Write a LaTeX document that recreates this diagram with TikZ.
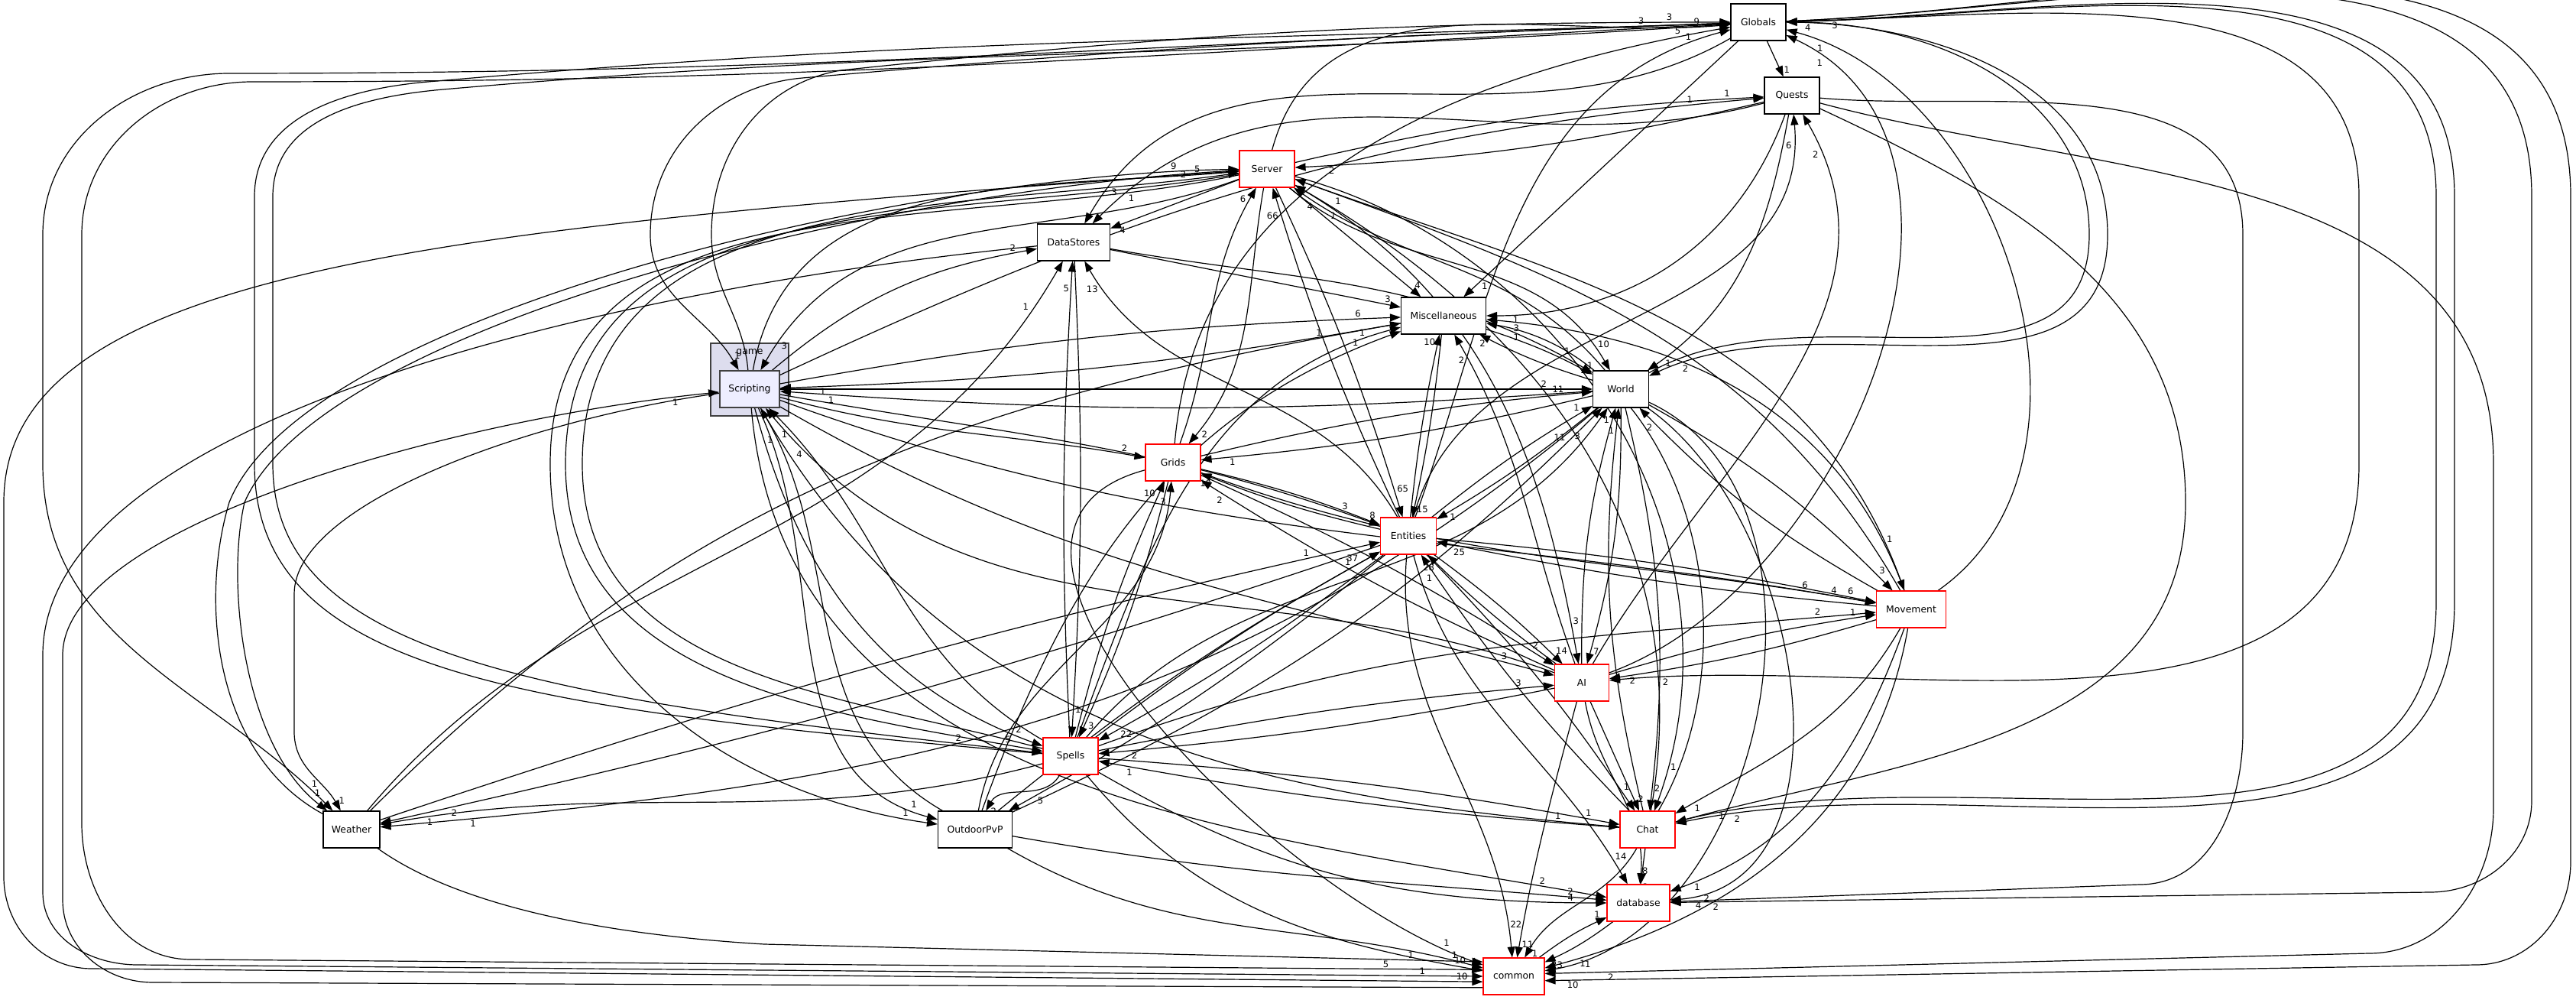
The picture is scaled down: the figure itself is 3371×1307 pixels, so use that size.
\documentclass[tikz,border=0pt]{standalone}
\usepackage{fontspec}
\setmainfont{DejaVu Sans}
\usetikzlibrary{arrows.meta,positioning,backgrounds}
\definecolor{clusterfill}{HTML}{DDDDEE}
\definecolor{scriptfill}{HTML}{EEEEFF}
\definecolor{darkline}{HTML}{404040}
\tikzset{
    %Define standard arrow tip
    >={Triangle[length=3.5pt,width=2.5pt]},
    %Define style for boxes
    dirbox/.style={
           rectangle,
           draw=black, line width=.28pt,
           minimum height=12pt,
           inner sep=0pt,
           font=\fontsize{3.1}{3.5}\selectfont,
           text centered,
           fill=white},
    redbox/.style={dirbox, draw=red},
    curbox/.style={dirbox, draw=darkline, line width=.45pt, fill=scriptfill},
    % Define arrow style
    dep/.style={
           ->,
           line width=.3pt},
    num/.style={pos=.94, auto, inner sep=.4pt,
           font=\fontsize{2.9}{3}\selectfont}
}

\begin{document}
\begin{tikzpicture}[x=.25pt,y=.25pt,line width=.3pt]
\useasboundingbox (0,0) rectangle (3371,1307);
\node[font=\fontsize{3.1}{3.5}\selectfont] (game) at (981,846) {game};

\node[dirbox, minimum width=18pt] (G) at (2301,1278) {Globals};
\node[dirbox, minimum width=18pt] (Q) at (2345,1182) {Quests};
\node[redbox, minimum width=18pt] (Sv) at (1658,1086) {Server};
\node[dirbox, minimum width=23.75pt] (DS) at (1405,990) {DataStores};
\node[dirbox, minimum width=27.75pt] (Mi) at (1889,894) {Miscellaneous};
\node[curbox, minimum width=19.5pt] (Sc) at (981,798) {Scripting};
\node[dirbox, minimum width=18.25pt] (Wo) at (2121,798) {World};
\node[redbox, minimum width=18pt] (Gr) at (1535,702) {Grids};
\node[redbox, minimum width=18.25pt] (En) at (1843,606) {Entities};
\node[redbox, minimum width=22.75pt] (Mv) at (2501,510) {Movement};
\node[redbox, minimum width=17.75pt] (AI) at (2070,414) {AI};
\node[redbox, minimum width=18pt] (Sp) at (1401,318) {Spells};
\node[dirbox, minimum width=18.5pt] (We) at (460,222) {Weather};
\node[dirbox, minimum width=24.25pt] (Op) at (1276,222) {OutdoorPvP};
\node[redbox, minimum width=18pt] (Ch) at (2156,222) {Chat};
\node[redbox, minimum width=20.5pt] (db) at (2144,126) {database};
\node[redbox, minimum width=20pt] (co) at (1981,30) {common};

\begin{scope}[on background layer]
\draw[-,fill=clusterfill,draw=darkline,line width=.38pt] (930,763) rectangle (1032,858);

% long loops on the left
\draw[dep] (G) to[out=182,in=0] (300,1211) to[out=180,in=90] (56,1000) -- (56,700) to[out=270,in=135] node[num]{1} (We);
\draw[dep] (G) to[out=183,in=0] (330,1200) to[out=180,in=90] (107,1000) -- (107,230) to[out=270,in=180] (250,52) -- node[num,pos=.925]{5} (co.168);
\draw[dep] (Sp) .. controls (700,380) and (333,420) .. (333,700) -- (333,1050) to[out=90,in=185] (560,1200) to[out=5,in=182] node[num]{3} (G);
\draw[dep] (G) to[out=184,in=5] (580,1190) to[out=185,in=90] (357,1050) -- (357,700) .. controls (357,450) and (700,395) .. node[num]{2} (Sp);
\draw[dep] (Sc) to[out=95,in=270] (931,1000) to[out=90,in=190] (1100,1215) to[out=6,in=180] node[num]{3} (G);
\draw[dep] (G) to[out=182,in=5] (1050,1205) to[out=185,in=90] (851,1000) to[out=270,in=120] node[num]{1} (Sc);
\draw[dep] (Sv) .. controls (600,1010) and (5,960) .. (5,650) -- (5,160) to[out=270,in=180] (120,40) -- node[num,pos=.985]{10} (co.190);
\draw[dep] (DS) .. controls (800,930) and (56,760) .. (56,450) -- (56,140) to[out=270,in=180] (180,45) -- node[num,pos=.955]{1} (co.180);
\draw[dep] (co.200) -- (200,22) to[out=180,in=270] (82,130) -- (82,450) .. controls (82,620) and (600,760) .. node[num,swap]{1} (Sc);
\draw[dep] (We) .. controls (280,320) and (261,520) .. (300,650) .. controls (400,900) and (1200,1080) .. node[num]{9} (Sv);
\draw[dep] (Sv) .. controls (1150,1060) and (420,880) .. (320,650) .. controls (295,540) and (320,330) .. node[num]{1} (We);
\draw[dep] (Sc) .. controls (700,760) and (385,650) .. (385,530) -- (385,350) to[out=270,in=120] node[num]{1} (We);
\draw[dep] (Sv) to[out=190,in=90] (740,700) to[out=270,in=170] node[num]{5} (Sp);
\draw[dep] (Sp) to[out=165,in=270] (762,700) to[out=90,in=188] node[num]{2} (Sv);
\draw[dep] (Sv) to[out=192,in=90] (720,700) to[out=270,in=172] node[num]{1} (Op);
\draw[dep] (We) .. controls (560,150) and (700,90) .. (1000,72) -- node[num,pos=.9]{1} (co.155);

% long loops on the right
\draw[dep] (Wo) to[out=30,in=270] (2734,1000) to[out=90,in=0] node[num]{4} (G);
\draw[dep] (G) to[out=0,in=90] (2758,1000) to[out=270,in=25] node[num]{2} (Wo);
\draw[dep] (G) to[out=1,in=90] (3087,1050) -- (3087,700) to[out=270,in=5] node[num]{2} (AI);
\draw[dep] (Ch) to[out=15,in=270] (3188,520) -- (3188,1050) to[out=90,in=1] node[num]{3} (G);
\draw[dep] (G) to[out=1,in=90] (3212,1050) -- (3212,520) to[out=270,in=12] node[num]{2} (Ch);
\draw[dep] (G) to[out=2,in=90] (3313,1050) -- (3313,260) to[out=270,in=0] (3180,140) -- node[num]{2} (db);
\draw[dep] (G) to[out=2,in=90] (3364,1050) -- (3364,180) to[out=270,in=0] (3240,45) -- node[num,pos=.97]{10} (co.-8);
\draw[dep] (Q) to[out=-5,in=90] (2935,1000) -- (2935,350) to[out=270,in=0] (2800,150) -- node[num]{4} (db);
\draw[dep] (Q) to[out=-15,in=90] (3263,700) -- (3263,250) to[out=270,in=0] (3100,60) -- node[num,pos=.92]{2} (co.5);
\draw[dep] (Q) to[out=-25,in=90] (2860,650) to[out=270,in=15] node[num]{1} (Ch);

\path[dep]
    (Sv) edge[out=75,in=185] node[num]{9} (G)
    (Gr) edge[out=85,in=190] node[num]{5} (G)
    (En) edge[out=70,in=195] node[num]{1} (G)
    (Mv) edge[out=35,in=-15] node[num]{1} (G)
    (AI) edge[out=20,in=-25] node[num]{1} (G)
    (G) edge node[num]{1} (Q)
    (G) edge node[num]{1} (Mi)
    (G) edge[out=210,in=60] node[num]{3} (DS)
    (Q) edge[bend left=5] node[num]{2} (Sv)
    (Sv) edge[bend left=5] node[num]{1} (Q)
    (Q) edge[out=195,in=45] node[num]{1} (DS)
    (Q) edge[out=-100,in=35] node[num]{1} (Wo)
    (Q) edge[out=-110,in=0] node[num]{1} (Mi)
    (En) edge[out=75,in=-85] node[num]{6} (Q)
    (AI) edge[out=60,in=-60] node[num]{2} (Q)
    (Sc) edge[out=25,in=185] node[num]{1} (Q);

\path[dep]
    (Sv) edge node[num]{4} (DS)
    (Sv) edge node[num]{4} (Mi)
    (Sv) edge[out=-40,in=120] node[num]{10} (Wo)
    (Sv) edge[bend left=4] node[num]{65} (En)
    (En) edge[bend left=4] node[num]{66} (Sv)
    (Sv) edge[out=-20,in=110] node[num]{1} (Mv)
    (Sv) edge[out=-30,in=100] node[num]{3} (AI)
    (Sv) edge[out=-15,in=70] node[num]{1} (Ch)
    (Sv) edge[out=200,in=60] node[num]{3} (Sc)
    (Sc) edge[out=80,in=185] node[num]{5} (Sv)
    (Gr) edge[out=70,in=240] node[num]{6} (Sv)
    (Sv) edge[out=-100,in=50] node[num]{2} (Gr)
    (Wo) edge[out=130,in=-35] node[num]{4} (Sv)
    (Mv) edge[out=120,in=-20] node[num]{1} (Sv)
    (Ch) edge[out=80,in=-30] node[num]{1} (Sv);

\path[dep]
    (DS) edge node[num]{3} (Mi)
    (DS) edge[out=-10,in=150] node[num]{1} (Wo)
    (Sc) edge[out=40,in=190] node[num]{2} (DS)
    (We) edge[out=50,in=240] node[num]{1} (DS)
    (Sp) edge[bend left=3] node[num]{5} (DS)
    (DS) edge[bend left=3] node[num]{1} (Sp)
    (En) edge[out=120,in=-60] node[num]{13} (DS)
    (Sc) edge[bend left=4] node[num]{6} (Mi)
    (Mi) edge[bend left=4] node[num]{1} (Sc)
    (Sp) edge[out=70,in=195] node[num]{1} (Mi)
    (Op) edge[out=70,in=200] node[num]{1} (Mi)
    (We) edge[out=45,in=190] node[num]{1} (Mi)
    (Mi) edge[bend left=5] node[num]{1} (Wo)
    (Wo) edge[bend left=5] node[num]{2} (Mi)
    (Mv) edge[out=110,in=-5] node[num]{3} (Mi)
    (Ch) edge[out=60,in=-10] node[num]{1} (Mi)
    (AI) edge[out=110,in=-60] node[num]{2} (Mi)
    (En) edge[bend left=3] node[num]{10} (Mi)
    (Mi) edge[bend left=3] node[num]{15} (En);

\path[dep]
    (Sc) edge node[num]{2} (Wo)
    (Wo) edge[bend left=4] node[num]{1} (Sc)
    (Sc) edge[out=-15,in=170] node[num]{2} (Gr)
    (Sc) edge[out=-10,in=160] node[num]{3} (En)
    (Sc) edge[out=-75,in=160] node[num]{2} (Sp)
    (Sp) edge[out=150,in=-45] node[num]{1} (Sc)
    (Op) edge[out=150,in=-60] node[num]{1} (Sc)
    (Sc) edge[out=-65,in=165] node[num]{1} (Op)
    (AI) edge[out=160,in=-50] node[num]{4} (Sc)
    (Sc) edge[out=-30,in=165] node[num]{3} (AI)
    (Sc) edge[out=-20,in=170] node[num]{6} (Mv)
    (Sc) edge[out=-60,in=175] node[num]{1} (Ch)
    (Sc) edge[out=-85,in=170] node[num]{2} (db);

\path[dep]
    (Gr) edge[bend left=4] node[num]{11} (Wo)
    (Wo) edge[bend left=4] node[num]{1} (Gr)
    (En) edge[bend left=4] node[num]{1} (Wo)
    (Wo) edge[bend left=4] node[num]{1} (En)
    (Sp) edge[out=50,in=235] node[num]{3} (Wo)
    (AI) edge[bend left=8] node[num]{1} (Wo)
    (Wo) edge[bend left=8] node[num]{7} (AI)
    (Ch) edge[bend left=10] node[num]{1} (Wo)
    (Wo) edge[bend left=10] node[num]{2} (Ch)
    (Mv) edge[bend left=8] node[num]{2} (Wo)
    (Wo) edge[bend left=8] node[num]{3} (Mv)
    (Op) edge[out=25,in=225] node[num]{11} (Wo)
    (Wo) edge[out=220,in=5] node[num]{1} (We)
    (Wo) edge[out=-25,in=10] node[num]{1} (co)
    (Wo) edge[out=-35,in=5] node[num]{2} (db);

\path[dep]
    (Gr) edge[bend left=4] node[num]{8} (En)
    (En) edge[bend left=4] node[num]{10} (Gr)
    (Gr) edge[out=-20,in=170] node[num]{4} (Mv)
    (Gr) edge[bend left=4] node[num]{2} (AI)
    (AI) edge[bend left=4] node[num]{2} (Gr)
    (Sp) edge[bend left=5] node[num]{10} (Gr)
    (Gr) edge[bend left=5] node[num]{3} (Sp)
    (Op) edge[out=80,in=265] node[num]{3} (Gr)
    (Gr) edge[out=195,in=160] node[num]{1} (co);

\path[dep]
    (En) edge[bend left=3] node[num]{6} (Mv)
    (Mv) edge[bend left=3] node[num]{25} (En)
    (En) edge[bend left=4] node[num]{14} (AI)
    (AI) edge[bend left=4] node[num]{28} (En)
    (En) edge[bend left=4] node[num]{22} (Sp)
    (Sp) edge[bend left=4] node[num]{37} (En)
    (En) edge[bend left=3] node[num]{2} (We)
    (We) edge[bend left=3] node[num]{1} (En)
    (En) edge[bend left=5] node[num]{5} (Op)
    (Op) edge[bend left=5] node[num]{1} (En)
    (En) edge[bend left=5] node[num]{1} (Ch)
    (Ch) edge[bend left=5] node[num]{1} (En)
    (En) edge[out=-75,in=120] node[num]{14} (db)
    (En) edge[out=-95,in=95] node[num]{22} (co);

\path[dep]
    (Mv) edge[bend left=4] node[num]{2} (AI)
    (AI) edge[bend left=4] node[num]{1} (Mv)
    (Mv) edge[out=-110,in=20] node[num]{1} (db)
    (Mv) edge[out=-100,in=15] node[num]{1} (co)
    (Mv) edge[out=-120,in=30] node[num]{1} (Ch)
    (Sp) edge[out=20,in=185] node[num]{2} (Mv)
    (Sp) edge[bend left=3] node[num]{3} (AI)
    (AI) edge[bend left=3] node[num]{2} (Sp)
    (AI) edge node[num]{2} (Ch)
    (AI) edge[out=-80,in=85] node[num]{8} (db)
    (AI) edge[out=-105,in=80] node[num]{11} (co)
    (Sp) edge[out=240,in=60] node[num]{2} (Op)
    (Sp) edge[out=195,in=10] node[num]{1} (We)
    (Sp) edge[bend left=3] node[num]{1} (Ch)
    (Ch) edge[bend left=3] node[num]{1} (Sp)
    (Sp) edge[out=-30,in=180] node[num]{4} (db)
    (Sp) edge[out=-50,in=170] node[num]{10} (co)
    (Ch) edge node[num]{2} (db)
    (Ch) edge[out=-120,in=60] node[num]{1} (co)
    (db) edge[bend left=6] node[num]{23} (co)
    (co) edge[bend left=6] node[num]{1} (db)
    (Op) edge[out=-10,in=175] node[num]{2} (db)
    (Op) edge[out=-30,in=165] node[num]{1} (co);
\end{scope}
\end{tikzpicture}
\end{document}
